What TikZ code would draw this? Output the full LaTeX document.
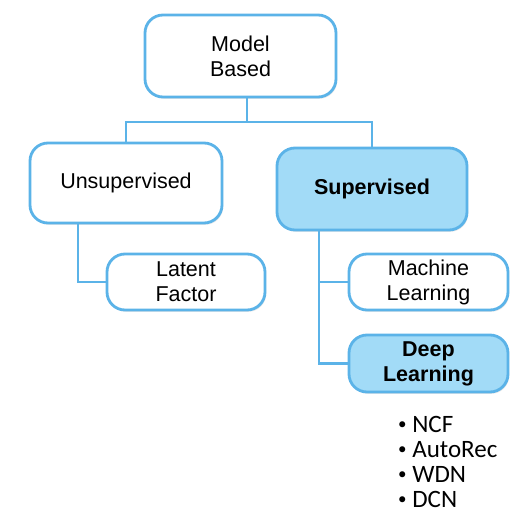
\documentclass[tikz,border=0pt]{standalone}
\usepackage{fontspec}
\setmainfont{Liberation Sans}
\newfontfamily\listfont{Carlito}
\usetikzlibrary{shadows}

\definecolor{boxline}{HTML}{5BB3E8}
\definecolor{boxfill}{HTML}{A2DBF7}

\tikzset{
	catbox/.style={draw=boxline, line width=2.8pt, fill=white, rounded corners=18pt,
		align=center, inner sep=0pt, font=\fontsize{21.5}{25}\selectfont,
		drop shadow={opacity=0.18, shadow xshift=1.2pt, shadow yshift=-1.8pt}},
	keybox/.style={catbox, fill=boxfill, font=\fontsize{21.5}{25}\selectfont\bfseries},
	link/.style={draw=boxline, line width=2.8pt}
}

\newcommand{\dotitem}{\raisebox{2.5pt}{\fontsize{17}{17}\selectfont\textbullet}\ }

\begin{document}
\begin{tikzpicture}[x=1pt,y=-1pt]
			\useasboundingbox (0,0) rectangle (520,522);

			\node[catbox, minimum width=191pt, minimum height=82pt] (mb) at (240.5,56) {Model\\Based};
			\node[catbox, minimum width=192pt, minimum height=80pt] (unsup) at (126,183) {Unsupervised};
			\node[keybox, minimum width=190pt, minimum height=82pt] (sup) at (372,189) {Supervised};

			\node[catbox, minimum width=158pt, minimum height=56pt] (lat) at (186,282) {Latent\\Factor};
			\node[catbox, minimum width=159pt, minimum height=56pt] (ml) at (428.5,282) {Machine\\Learning};
			\node[keybox, minimum width=159pt, minimum height=57pt] (dl) at (428.5,363.5) {Deep\\Learning};

			\node[anchor=north west, align=left, inner sep=0pt, font=\listfont\fontsize{25}{25}\selectfont] (models) at (398,416)
				{\dotitem NCF\\ \dotitem AutoRec\\ \dotitem WDN\\ \dotitem DCN};

			\coordinate (split) at (247,122);
			\draw[link] ([xshift=6.5pt]mb.south) -- (split);
			\draw[link] (unsup.north) |- (split) -| (sup.north);
			\draw[link] ([xshift=-48pt]unsup.south) |- (lat.west);
			\draw[link] ([xshift=-53pt]sup.south) |- (ml.west);
			\draw[link] ([xshift=-53pt]sup.south) |- (dl.west);
		\end{tikzpicture}
\end{document}
